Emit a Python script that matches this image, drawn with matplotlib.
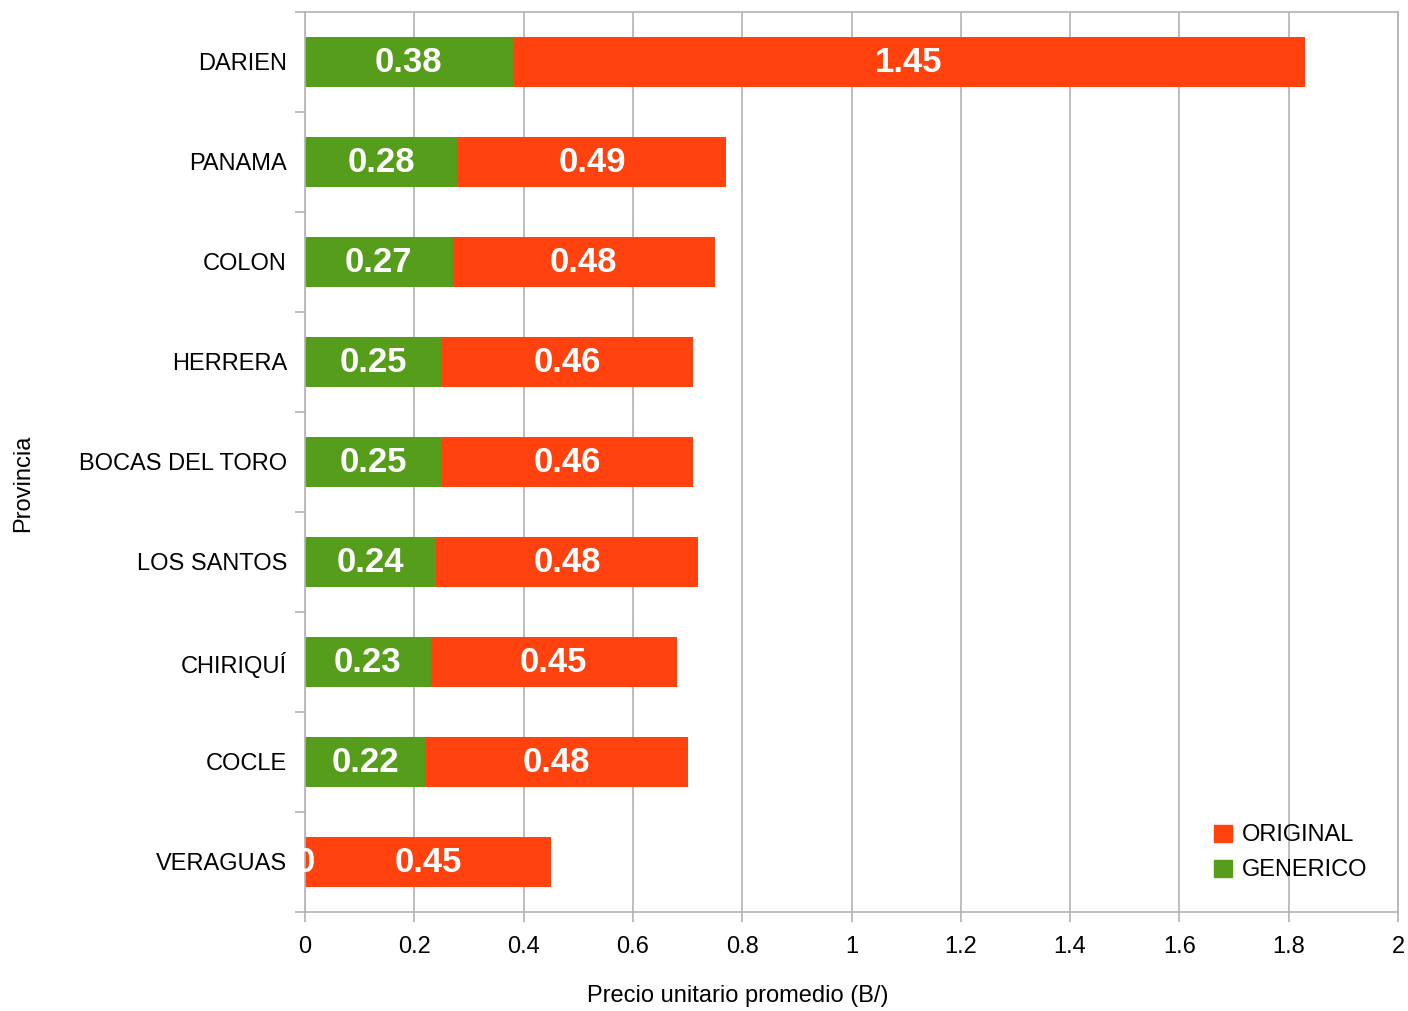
import matplotlib

matplotlib.use("Agg")
import matplotlib.pyplot as plt
import numpy as np
from matplotlib.patches import Patch

provincias = ["DARIEN", "PANAMA", "COLON", "HERRERA", "BOCAS DEL TORO",
              "LOS SANTOS", "CHIRIQUÍ", "COCLE", "VERAGUAS"]
generico = [0.38, 0.28, 0.27, 0.25, 0.25, 0.24, 0.23, 0.22, 0.0]
original = [1.45, 0.49, 0.48, 0.46, 0.46, 0.48, 0.45, 0.48, 0.45]
x_ticks = [0, 0.2, 0.4, 0.6, 0.8, 1, 1.2, 1.4, 1.6, 1.8, 2]

GREEN = "#579d1c"
RED = "#ff420e"
GRID = "#b3b3b3"

plt.rcParams["font.family"] = ["Liberation Sans", "DejaVu Sans"]

fig = plt.figure(figsize=(14.08, 10.11), dpi=100)
ax = fig.add_axes([305 / 1408, 99 / 1011, 1093 / 1408, 900 / 1011])

y = np.arange(len(provincias))
gen = np.array(generico)
ori = np.array(original)
ax.barh(y, gen, height=0.5, color=GREEN, zorder=2)
ax.barh(y, ori, left=gen, height=0.5, color=RED, zorder=2)

# value labels, white bold centred in each segment
for yi, g, o in zip(y, gen, ori):
    ax.text(g / 2, yi, f"{g:.2f}" if g > 0 else "0", color="white", fontsize=25,
            fontweight="bold", ha="center", va="center", zorder=3, clip_on=False)
    ax.text(g + o / 2, yi, f"{o:.2f}", color="white", fontsize=25,
            fontweight="bold", ha="center", va="center", zorder=3)

ax.set_xlim(0, 2)
ax.set_ylim(len(provincias) - 0.5, -0.5)
ax.set_xticks(x_ticks, labels=[f"{t:g}" for t in x_ticks])
ax.set_yticks(y, labels=provincias)
ax.set_yticks(np.arange(-0.5, len(provincias)), minor=True)
ax.tick_params(axis="y", which="major", length=0, pad=13, labelsize=17)
ax.tick_params(axis="y", which="minor", length=7.5, color=GRID, width=1.2)
ax.tick_params(axis="x", length=7.5, color=GRID, width=1.2, pad=10, labelsize=17)

ax.grid(axis="x", color=GRID, linewidth=1.2, zorder=0)
ax.set_axisbelow(True)
for side in ax.spines.values():
    side.set_color(GRID)
    side.set_linewidth(1.2)

ax.set_xlabel("Precio unitario promedio (B/)", fontsize=17)
ax.xaxis.set_label_coords(0.396, -0.081)
ax.set_ylabel("Provincia", fontsize=17)
ax.yaxis.set_label_coords(-0.248, 0.476)

handles = [Patch(color=RED, label="ORIGINAL"), Patch(color=GREEN, label="GENERICO")]
fig.legend(handles=handles, loc="upper left", bbox_to_anchor=(1205 / 1408, 1 - 815 / 1011),
           frameon=False, fontsize=17, handlelength=0.75, handleheight=0.75,
           handletextpad=0.4, labelspacing=0.55, borderaxespad=0)

fig.savefig("out.png", dpi=100)
